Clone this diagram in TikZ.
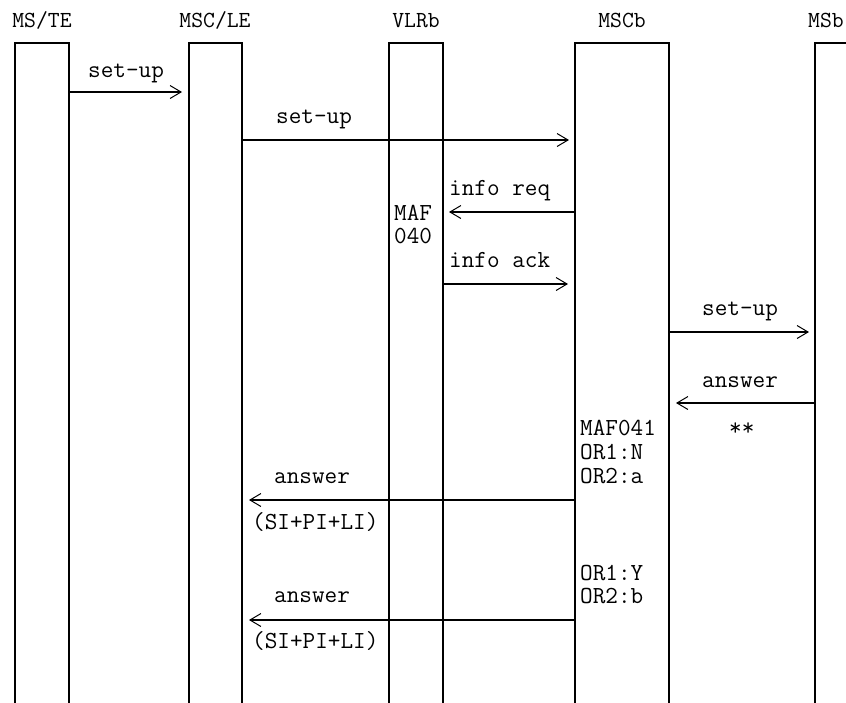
\documentclass[tikz,border=0pt]{standalone}
\usetikzlibrary{arrows.meta}
\begin{document}
\begin{tikzpicture}[x=1pt,y=-1pt,
  life/.style={draw, line width=1.6pt, rectangle, minimum height=700pt, anchor=north west, inner sep=0pt, outer sep=0pt},
  msg/.style={line width=1.6pt, -{Straight Barb[length=11pt,width=13pt,line width=1pt]}},
  txt/.style={anchor=base west, inner sep=0pt, font=\ttfamily\fontsize{24.5}{26}\selectfont},
  head/.style={anchor=base, inner sep=0pt, font=\ttfamily\fontsize{23}{26}\selectfont}]
\useasboundingbox (0,0) rectangle (846,702);
% lifelines
\node[life, minimum width=54pt] (A) at (15,43) {};
\node[life, minimum width=53pt] (B) at (189,43) {};
\node[life, minimum width=54pt] (C) at (389,43) {};
\node[life, minimum width=94pt] (D) at (575,43) {};
\node[life, minimum width=80pt] (E) at (815,43) {};
% headers
\node[head] (hA) at (42,27) {MS/TE};
\node[head] (hB) at (215,27) {MSC/LE};
\node[head] (hC) at (416,27) {VLRb};
\node[head] (hD) at (622,27) {MSCb};
\node[head, anchor=base west] (hE) at (808,27) {MSb};
% messages
\draw[msg] (A.east |- 0,92) -- ([xshift=-7pt]B.west |- 0,92);
\node[txt] (m1) at (88,77) {set-up};
\draw[msg] (B.east |- 0,140) -- ([xshift=-6pt]D.west |- 0,140);
\node[txt] (m2) at (276,123) {set-up};
\draw[msg] (D.west |- 0,212) -- ([xshift=6pt]C.east |- 0,212);
\node[txt] (m3) at (449,195) {info req};
\node[txt] (n1) at (394,220) {MAF};
\node[txt] (n2) at (394,243) {040};
\draw[msg] (C.east |- 0,284) -- ([xshift=-7pt]D.west |- 0,284);
\node[txt] (m4) at (449,267) {info ack};
\draw[msg] (D.east |- 0,332) -- ([xshift=-6pt]E.west |- 0,332);
\node[txt] (m5) at (702,315) {set-up};
\draw[msg] (E.west |- 0,403) -- ([xshift=7pt]D.east |- 0,403);
\node[txt] (m6) at (702,387) {answer};
\node[txt] (m6b) at (729,435) {**};
\node[txt] (n3) at (580,435) {MAF041};
\node[txt] (n4) at (580,459) {OR1:N};
\node[txt] (n5) at (580,483) {OR2:a};
\draw[msg] (D.west |- 0,500) -- ([xshift=7pt]B.east |- 0,500);
\node[txt] (m7) at (274,483) {answer};
\node[txt] (m7b) at (252,529) {(SI+PI+LI)};
\node[txt] (n6) at (580,580) {OR1:Y};
\node[txt] (n7) at (580,603) {OR2:b};
\draw[msg] (D.west |- 0,620) -- ([xshift=7pt]B.east |- 0,620);
\node[txt] (m8) at (274,602) {answer};
\node[txt] (m8b) at (252,648) {(SI+PI+LI)};
\end{tikzpicture}
\end{document}
